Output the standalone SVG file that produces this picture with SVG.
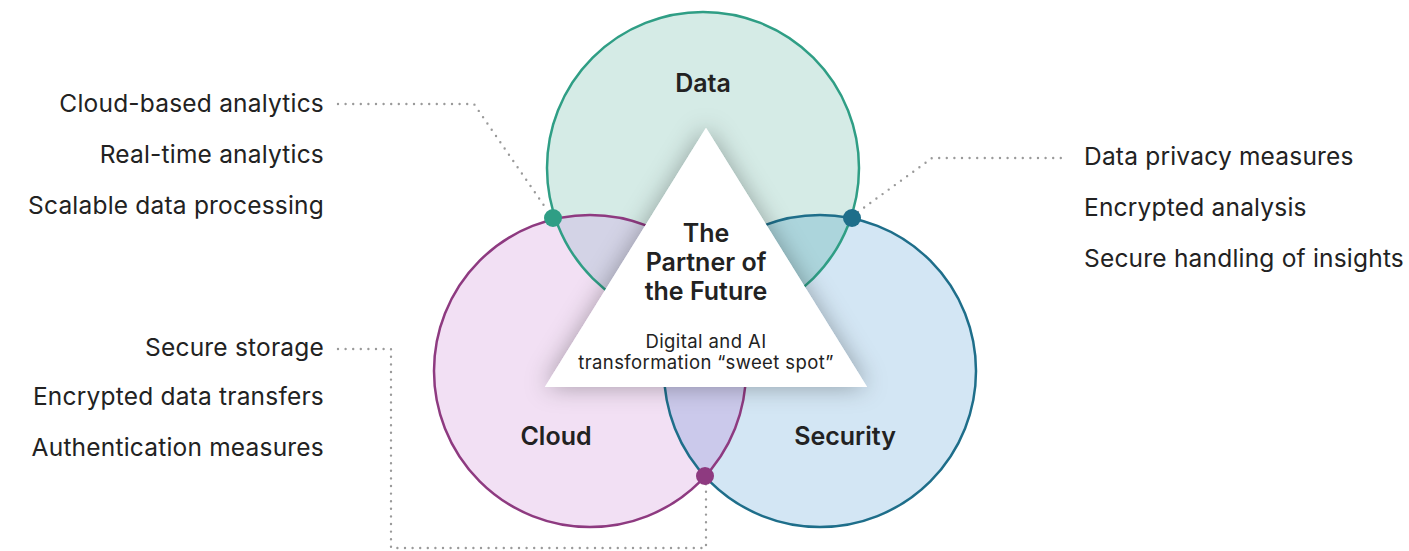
<svg xmlns="http://www.w3.org/2000/svg" width="1409" height="551" viewBox="0 0 1409 551">
  <defs>
    <style>
      .label { font-family: Inter, "Liberation Sans", sans-serif; font-size: 24.5px; letter-spacing: 0.2px; fill: #222; }
      .title { font-family: Inter, "Liberation Sans", sans-serif; font-size: 25px; font-weight: 600; fill: #222; text-anchor: middle; }
      .core { font-family: Inter, "Liberation Sans", sans-serif; font-size: 25px; font-weight: 600; fill: #222; text-anchor: middle; }
      .sub { font-family: Inter, "Liberation Sans", sans-serif; font-size: 18.5px; letter-spacing: 0.4px; fill: #222; text-anchor: middle; }
      .leader { fill: none; stroke: #9a9a9a; stroke-width: 2.4; stroke-linecap: round; stroke-linejoin: round; stroke-dasharray: 0 7.6; }
      .ring { fill: none; stroke-width: 2.5; }
    </style>
    <clipPath id="clipData"><circle cx="703" cy="168" r="156"/></clipPath>
    <clipPath id="clipCloud"><circle cx="590" cy="371" r="156"/></clipPath>
    <filter id="triShadow" x="-30%" y="-30%" width="160%" height="160%">
      <feDropShadow dx="0" dy="0" stdDeviation="12" flood-color="#000" flood-opacity="0.32"/>
    </filter>
  </defs>

  <!-- circle fills and overlaps -->
  <g id="fills">
    <circle cx="703" cy="168" r="156" fill="#d5ebe6"/>
    <circle cx="590" cy="371" r="156" fill="#f2e0f4"/>
    <circle cx="820" cy="371" r="156" fill="#d3e6f4"/>
    <circle cx="590" cy="371" r="156" fill="#d3d3e6" clip-path="url(#clipData)"/>
    <circle cx="820" cy="371" r="156" fill="#acd5dc" clip-path="url(#clipData)"/>
    <circle cx="820" cy="371" r="156" fill="#cbc9eb" clip-path="url(#clipCloud)"/>
  </g>

  <g id="node-data">
    <circle class="ring" cx="703" cy="168" r="156" stroke="#2f9e85"/>
    <text class="title" x="703" y="92">Data</text>
  </g>
  <g id="node-cloud">
    <circle class="ring" cx="590" cy="371" r="156" stroke="#8e3a80"/>
    <text class="title" x="556" y="445">Cloud</text>
  </g>
  <g id="node-security">
    <circle class="ring" cx="820" cy="371" r="156" stroke="#1e6e8a"/>
    <text class="title" x="845" y="445">Security</text>
  </g>

  <!-- central triangle -->
  <g id="node-core">
    <polygon points="706,128 545,387 867,387" fill="#fff" filter="url(#triShadow)"/>
    <polygon points="706,128 545,387 867,387" fill="#fff"/>
    <text class="core" x="706" y="242">The</text>
    <text class="core" x="706" y="271">Partner of</text>
    <text class="core" x="706" y="300">the Future</text>
    <text class="sub" x="706" y="348">Digital and AI</text>
    <text class="sub" x="706" y="369">transformation “sweet spot”</text>
  </g>

  <!-- leader lines -->
  <g id="connectors">
    <path class="leader" d="M338,104 H474 L545,207"/>
    <path class="leader" d="M858,212 L932,158 H1068"/>
    <path class="leader" d="M338,349 H391 V548 H706 V484"/>
  </g>

  <g id="markers">
    <circle cx="553" cy="218" r="9" fill="#2f9e85"/>
    <circle cx="852" cy="218" r="9" fill="#1e6e8a"/>
    <circle cx="705" cy="476" r="9" fill="#8e3a80"/>
  </g>

  <g id="labels-data" text-anchor="end">
    <text class="label" x="324" y="112">Cloud-based analytics</text>
    <text class="label" x="324" y="163">Real-time analytics</text>
    <text class="label" x="324" y="214">Scalable data processing</text>
  </g>
  <g id="labels-cloud" text-anchor="end">
    <text class="label" x="324" y="356">Secure storage</text>
    <text class="label" x="324" y="405">Encrypted data transfers</text>
    <text class="label" x="324" y="456">Authentication measures</text>
  </g>
  <g id="labels-security">
    <text class="label" x="1084" y="165">Data privacy measures</text>
    <text class="label" x="1084" y="216">Encrypted analysis</text>
    <text class="label" x="1084" y="267">Secure handling of insights</text>
  </g>
</svg>
